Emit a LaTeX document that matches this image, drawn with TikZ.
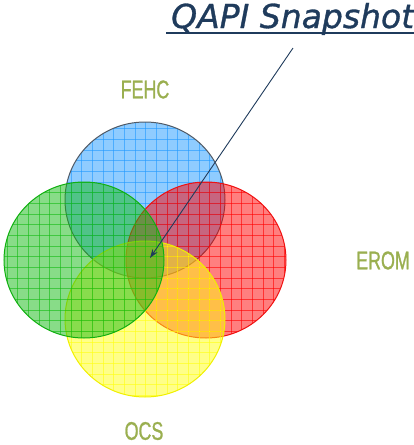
\documentclass[tikz,border=0pt]{standalone}
\usepackage{fontspec}
\newfontfamily\titlefont[FakeBold=1]{DejaVu Sans}
\newfontfamily\labfont[FakeStretch=0.7,FakeBold=1]{Liberation Sans}
\usetikzlibrary{arrows.meta}
\definecolor{navy}{HTML}{1F3B5C}
\definecolor{olive}{HTML}{9AAF50}
\definecolor{bluebase}{HTML}{1F99FF}
\definecolor{blueborder}{HTML}{505A66}
\definecolor{greenbase}{HTML}{12BA12}
\definecolor{greenborder}{HTML}{10B010}
\definecolor{redbase}{HTML}{FF0000}
\definecolor{redborder}{HTML}{F01010}
\definecolor{yellowbase}{HTML}{FFFF12}
\definecolor{yellowborder}{HTML}{F0F000}
\tikzset{
  lab/.style={font=\labfont\fontsize{25.5}{25.5}\selectfont, text=olive, inner sep=0pt},
  gridline/.style={line width=0.8pt, draw opacity=0.6},
  ring/.style={line width=1pt},
}
\begin{document}
\begin{tikzpicture}[x=1pt,y=-1pt]
\useasboundingbox (0,0) rectangle (414,445);
\foreach \cx/\cy/\bc/\rc in {145/200/bluebase/blueborder,
                             206/260/redbase/redborder,
                             145/319/yellowbase/yellowborder,
                             84/260/greenbase/greenborder}{
  \begin{scope}
    \clip (\cx,\cy) ellipse [x radius=80, y radius=78];
    \fill[\bc, fill opacity=0.5] (\cx,\cy) ellipse [x radius=80, y radius=78];
    \foreach \k in {0,...,28}{
      \draw[gridline,\bc] ({7+10.67*\k},100) -- ({7+10.67*\k},420);
    }
    \foreach \k in {0,...,30}{
      \draw[gridline,\bc] (0,{118+10.67*\k}) -- (300,{118+10.67*\k});
    }
  \end{scope}
  \draw[ring,\rc] (\cx,\cy) ellipse [x radius=80, y radius=78];
}
\node[anchor=base west, inner sep=0pt, text=navy,
      font=\titlefont\itshape\fontsize{33}{33}\selectfont] (title) at (171,28) {QAPI Snapshot};
\draw[navy, line width=2pt] (166,33) -- (414,33);
\coordinate (from) at (293,48);
\coordinate (to) at (150,258);
\draw[navy, line width=0.9pt, -{Stealth[length=9pt,width=6pt]}] (from) -- (to);
\node[lab] (fehc) at (145,89.5) {FEHC};
\node[lab] (erom) at (383,260.5) {EROM};
\node[lab] (ocs) at (144,431) {OCS};
\end{tikzpicture}
\end{document}
